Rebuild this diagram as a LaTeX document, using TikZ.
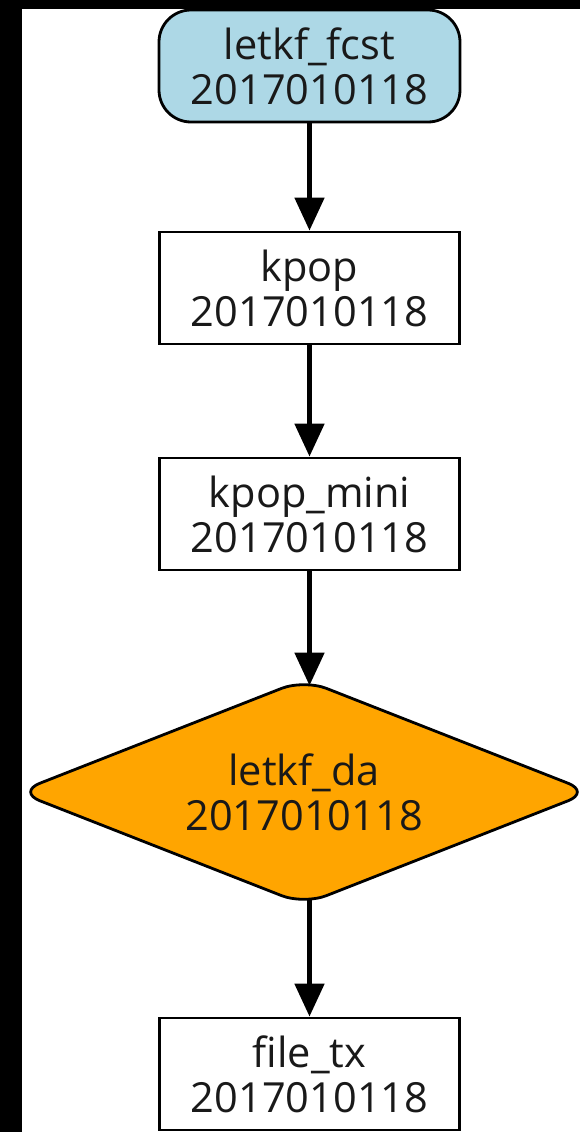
\documentclass[tikz,border=0pt]{standalone}
\usepackage{fontspec}
\setmainfont{Open Sans}
\usetikzlibrary{shapes.geometric,arrows.meta}
\definecolor{gvblue}{HTML}{ADD8E6}
\definecolor{gvorange}{HTML}{FFA500}
\tikzset{
  base/.style={draw=black, line width=2.8pt, align=center, inner sep=0pt,
    font=\fontsize{41.5}{45}\selectfont, text=black!90},
  taskbox/.style={base, rectangle, minimum width=300pt, minimum height=112pt, fill=white},
  fcstbox/.style={base, rectangle, rounded corners=32pt, minimum width=301pt, minimum height=112pt, fill=gvblue},
  dabox/.style={base, diamond, shape aspect=2.5, rounded corners=24pt, minimum width=574pt, minimum height=226pt, fill=gvorange},
  flow/.style={line width=5pt, -{Triangle[width=29pt,length=33pt]}}
}
\begin{document}
\begin{tikzpicture}[x=1pt,y=-1pt]
\useasboundingbox (0,0) rectangle (580,1132);
\fill[black] (0,0) rectangle (580,1132);
\fill[white] (22,9) rectangle (580,1132);
\begin{scope}
\clip (22,9) rectangle (580,1132);
\node[fcstbox] (fcst) at (309.5,66) {letkf\_fcst\\2017010118};
\node[taskbox] (kpop) at (309.5,288) {kpop\\2017010118};
\node[taskbox] (mini) at (309.5,514) {kpop\_mini\\2017010118};
\node[dabox] (da) at (304,792) {letkf\_da\\2017010118};
\node[taskbox] (ftx) at (309.5,1074) {file\_tx\\2017010118};
\draw[flow] (fcst.south) -- (kpop.north);
\draw[flow] (kpop.south) -- (mini.north);
\draw[flow, shorten >=-8pt] (mini.south) -- (mini.south |- da.north);
\draw[flow, shorten <=-8pt] (ftx.north |- da.south) -- (ftx.north);
\end{scope}
\end{tikzpicture}
\end{document}
